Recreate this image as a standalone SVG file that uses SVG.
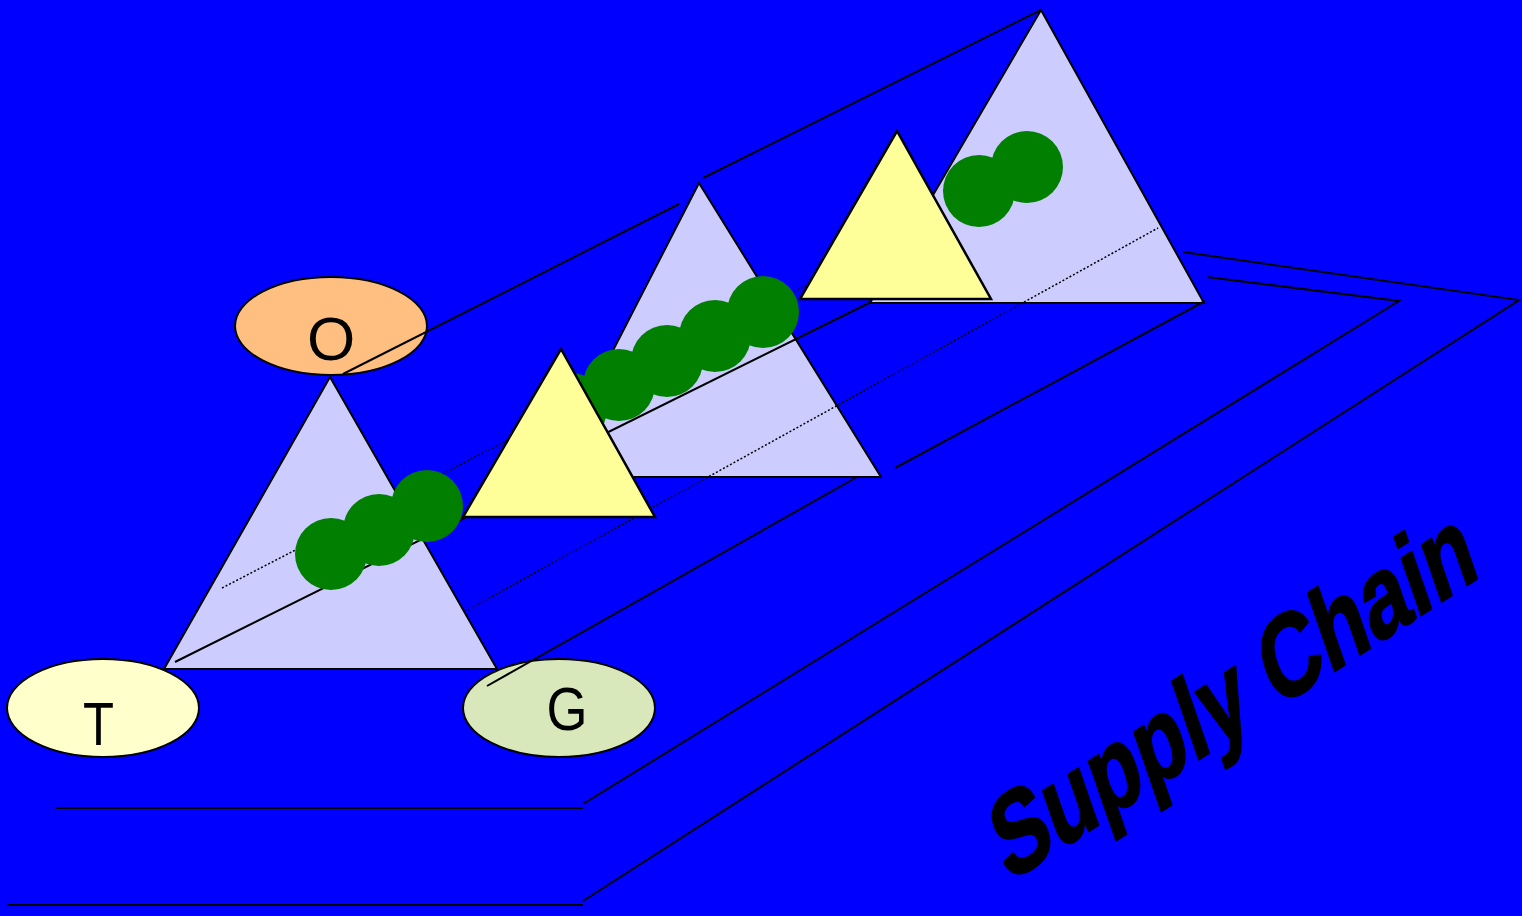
<svg xmlns="http://www.w3.org/2000/svg" width="1522" height="916" viewBox="0 0 1522 916">
<style>
.bg{fill:#0000FF}
.tri{fill:#CCCCFF;stroke:#000;stroke-width:2;stroke-linejoin:miter}
.ytri{fill:#FFFF99;stroke:#000;stroke-width:2.5}
.dot{fill:#007F00}
.ell{stroke:#000;stroke-width:2}
.ln{fill:none;stroke:#000;stroke-width:2}
.dt{fill:none;stroke:#000;stroke-width:1.5;stroke-dasharray:2 2}
.lbl{font-family:"Liberation Sans",Arial,sans-serif;font-size:62px;fill:#000;text-anchor:middle}
.title{font-family:"Liberation Sans",Arial,sans-serif;font-weight:bold;font-size:114px;fill:#000;stroke:#000;stroke-width:2.5;stroke-linejoin:round}
</style>
<rect class="bg" x="0" y="0" width="1522" height="916"/>

<g id="track">
  <polyline class="ln" points="1183,252 1519,300 583,901"/>
  <line class="ln" x1="583" y1="905" x2="7" y2="905"/>
  <polyline class="ln" points="1207,277 1399,301 583,804"/>
  <line class="ln" x1="583" y1="808" x2="55" y2="808"/>
</g>

<g id="pyramid-3"><polygon class="tri" points="1041,10 870,303 1204,303"/></g>
<g id="pyramid-2"><polygon class="tri" points="699,183 548,477 881,477"/></g>
<g id="pyramid-1"><polygon class="tri" points="330,377 164,669 497,669"/></g>

<g id="node-O">
  <ellipse class="ell" cx="331" cy="326" rx="96" ry="49" fill="#FFBF80"/>
  <text class="lbl" x="331" y="360">O</text>
</g>
<g id="node-T">
  <ellipse class="ell" cx="103" cy="708" rx="96" ry="49" fill="#FFFFCC"/>
  <text class="lbl" x="98.5" y="745" textLength="31" lengthAdjust="spacingAndGlyphs">T</text>
</g>
<g id="node-G">
  <ellipse class="ell" cx="559" cy="708" rx="96" ry="49" fill="#D9E8BA"/>
  <text class="lbl" x="567" y="730" textLength="41" lengthAdjust="spacingAndGlyphs">G</text>
</g>

<g id="connectors">
  <line class="ln" x1="343" y1="374" x2="679" y2="204"/>
  <line class="ln" x1="703" y1="178" x2="1041" y2="10"/>
  <line class="ln" x1="175" y1="662" x2="545" y2="478"/>
  <line class="ln" x1="560" y1="456" x2="871" y2="302"/>
  <line class="ln" x1="487" y1="686" x2="857" y2="477"/>
  <line class="ln" x1="895" y1="468" x2="1205" y2="301"/>
  <line class="dt" x1="222" y1="588" x2="840" y2="268"/>
  <line class="dt" x1="464" y1="612" x2="1158" y2="228"/>
</g>

<g id="flow-1">
  <circle class="dot" cx="331" cy="554" r="36"/>
  <circle class="dot" cx="379" cy="530" r="36"/>
  <circle class="dot" cx="427" cy="506" r="36"/>
</g>
<g id="flow-2">
  <circle class="dot" cx="571" cy="409" r="36"/>
  <circle class="dot" cx="619" cy="385" r="36"/>
  <circle class="dot" cx="667" cy="361" r="36"/>
  <circle class="dot" cx="715" cy="336" r="36"/>
  <circle class="dot" cx="763" cy="312" r="36"/>
</g>
<g id="flow-3">
  <circle class="dot" cx="979" cy="191" r="36"/>
  <circle class="dot" cx="1027" cy="167" r="36"/>
</g>

<g id="link-1"><polygon class="ytri" points="561,349 463,517 655,517"/></g>
<g id="link-2"><polygon class="ytri" points="897,131 800,299 991,299"/></g>

<g id="title">
  <text class="title" transform="matrix(0.650,-0.422,0.325,0.943,1008.5,883)">Supply Chain</text>
</g>
</svg>
